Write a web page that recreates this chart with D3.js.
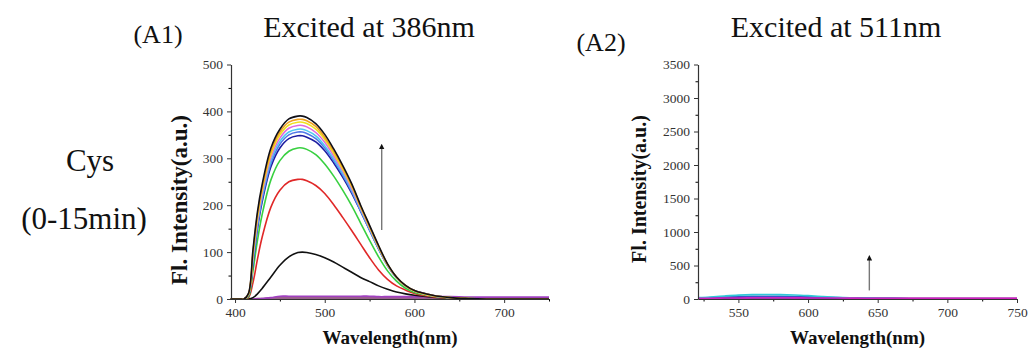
<!DOCTYPE html>
<html>
<head>
<meta charset="utf-8">
<script src="https://cdn.jsdelivr.net/npm/d3@7"></script>
<style>
  body { margin: 0; background: #fff; }
  svg text { font-family: "Liberation Serif", "Times New Roman", serif; fill: #111; }
</style>
</head>
<body>
<svg id="fig" width="1029" height="351"></svg>
<script>
// Spectra, excitation at 386 nm (Cys, 0-15 min)
const wl386 = [395, 405, 410, 415, 420, 425, 430, 440, 450, 460, 470, 475, 480, 490, 500, 510, 520, 530, 540, 550, 560, 570, 580, 590, 600, 620, 640, 660, 680, 700, 750];
const ex386Series = [
  { color: "#7a2a6a", values: [0, 0, 0, 0, 0, 1, 1, 2, 2, 2, 2, 2, 2, 2, 2, 2, 2, 2, 2, 2, 2, 2, 2, 2, 2, 2, 2, 2, 2, 2, 2] },
  { color: "#a040c0", values: [0, 0, 0, 0, 0, 0, 1, 3, 6, 6, 6, 6, 6, 6, 6, 6, 6, 6, 6, 6, 5, 5, 5, 5, 5, 5, 5, 4, 4, 4, 4] },
  { color: "#111111", values: [0, 0, 0, 0, 3, 11, 22, 47, 72, 90, 99, 100, 99, 95, 88, 79, 68, 57, 46, 37, 28, 21, 15, 11, 8, 4, 2, 1, 0, 0, 0] },
  { color: "#e02828", values: [0, 0, 0, 3, 35, 85, 130, 196, 232, 250, 255, 255, 252, 242, 225, 201, 174, 146, 117, 88, 62, 42, 28, 19, 12, 5, 2, 1, 0, 0, 0] },
  { color: "#38d040", values: [0, 0, 0, 5, 60, 125, 178, 254, 295, 315, 322, 322, 319, 308, 288, 262, 232, 199, 162, 125, 90, 60, 38, 23, 14, 6, 2, 1, 0, 0, 0] },
  { color: "#1c1ca0", values: [0, 0, 0, 8, 75, 150, 205, 282, 322, 342, 348, 348, 345, 335, 316, 290, 260, 226, 187, 147, 107, 72, 46, 28, 18, 8, 3, 1, 0, 0, 0] },
  { color: "#5078e8", values: [0, 0, 0, 9, 80, 155, 211, 289, 330, 350, 356, 356, 353, 342, 322, 295, 264, 229, 188, 147, 107, 71, 45, 28, 17, 7, 3, 1, 0, 0, 0] },
  { color: "#50c8f0", values: [0, 0, 0, 9, 85, 161, 217, 295, 336, 356, 362, 362, 359, 348, 327, 299, 268, 232, 190, 149, 108, 71, 45, 28, 17, 7, 3, 1, 0, 0, 0] },
  { color: "#e068e0", values: [0, 0, 0, 10, 90, 167, 223, 302, 343, 364, 370, 370, 367, 355, 334, 305, 273, 236, 193, 151, 110, 72, 46, 28, 17, 7, 3, 1, 0, 0, 0] },
  { color: "#f0e020", values: [0, 0, 0, 10, 95, 173, 229, 308, 350, 371, 377, 377, 374, 362, 340, 310, 277, 240, 196, 153, 111, 73, 46, 28, 17, 7, 3, 1, 0, 0, 0] },
  { color: "#f0a020", values: [0, 0, 0, 11, 100, 180, 235, 314, 356, 377, 383, 383, 380, 368, 345, 315, 281, 243, 198, 155, 113, 74, 47, 29, 18, 8, 3, 1, 0, 0, 0] },
  { color: "#101018", values: [0, 0, 0, 12, 105, 186, 242, 322, 362, 384, 390, 390, 387, 374, 351, 320, 285, 246, 200, 157, 114, 75, 47, 29, 18, 8, 3, 1, 0, 0, 0] }
];

// Spectra, excitation at 511 nm
const wl511 = [521, 530, 540, 550, 560, 570, 580, 590, 600, 610, 620, 630, 640, 650, 660, 680, 700, 750];
const ex511Series = [
  { color: "#8040a0", values: [8, 9, 10, 12, 13, 13, 13, 12, 12, 11, 11, 10, 10, 10, 9, 9, 9, 9] },
  { color: "#202080", values: [12, 15, 20, 25, 28, 30, 29, 27, 23, 19, 15, 11, 8, 6, 5, 3, 3, 2] },
  { color: "#4050c8", values: [15, 20, 28, 35, 40, 42, 40, 37, 32, 26, 20, 14, 10, 7, 5, 4, 3, 2] },
  { color: "#30c8d8", values: [20, 30, 45, 58, 66, 68, 66, 60, 50, 38, 27, 18, 12, 8, 6, 4, 3, 2] },
  { color: "#d020c0", values: [10, 12, 14, 16, 18, 18, 18, 17, 16, 15, 14, 13, 12, 12, 11, 11, 10, 10] }
];

const ticks386X = [400, 500, 600, 700];
const ticks386Y = [0, 100, 200, 300, 400, 500];
const ticks511X = [550, 600, 650, 700, 750];
const ticks511Y = [0, 500, 1000, 1500, 2000, 2500, 3000, 3500];

// arrows showing increase over time: [x, yFrom, yTo]
const arrow386 = [563.5, 147, 325];
const arrow511 = [644, 128, 615];

const svg = d3.select("#fig");

const defs = svg.append("defs");
defs.append("marker")
  .attr("id", "head")
  .attr("viewBox", "0 0 10 10")
  .attr("refX", 5).attr("refY", 5)
  .attr("markerWidth", 4).attr("markerHeight", 4)
  .attr("orient", "auto")
  .append("path")
  .attr("d", "M0,0 L10,5 L0,10 z")
  .attr("fill", "#111");

function panel(opt) {
  const x = d3.scaleLinear().domain(opt.xDomain).range(opt.xRange);
  const y = d3.scaleLinear().domain(opt.yDomain).range([299, 64.5]);
  const g = svg.append("g");

  const line = d3.line()
    .x((d, i) => x(opt.wl[i]))
    .y(d => y(d))
    .curve(d3.curveCatmullRom.alpha(0.5));

  g.append("g").selectAll("path")
    .data(opt.series)
    .enter().append("path")
    .attr("d", d => line(d.values))
    .attr("fill", "none")
    .attr("stroke", d => d.color)
    .attr("stroke-width", 1.6);

  // minor ticks
  g.append("g")
    .attr("transform", "translate(0,299)")
    .call(d3.axisBottom(x).tickValues(opt.xMinor).tickSize(2.5).tickSizeOuter(0).tickFormat(""))
    .call(a => a.select(".domain").remove());
  g.append("g")
    .attr("transform", `translate(${opt.xRange[0]},0)`)
    .call(d3.axisLeft(y).tickValues(opt.yMinor).tickSize(2.5).tickSizeOuter(0).tickFormat(""))
    .call(a => a.select(".domain").remove());

  const xAxis = g.append("g")
    .attr("transform", "translate(0,299)")
    .call(d3.axisBottom(x).tickValues(opt.xTicks).tickSize(4).tickSizeOuter(0).tickPadding(4).tickFormat(d3.format("d")));
  const yAxis = g.append("g")
    .attr("transform", `translate(${opt.xRange[0]},0)`)
    .call(d3.axisLeft(y).tickValues(opt.yTicks).tickSize(4).tickSizeOuter(0).tickPadding(4).tickFormat(d3.format("d")));

  [xAxis, yAxis].forEach(a => {
    a.selectAll("text")
      .style("font-family", "'Liberation Serif', serif", "important")
      .style("font-size", "13.5px", "important")
      .style("fill", "#333", "important");
    a.selectAll("line").attr("stroke", "#333");
    a.select(".domain").attr("stroke", "#333").attr("stroke-width", 1.2);
  });

  // increase arrow
  g.append("line")
    .attr("x1", x(opt.arrow[0])).attr("x2", x(opt.arrow[0]))
    .attr("y1", y(opt.arrow[1])).attr("y2", y(opt.arrow[2]))
    .attr("stroke", "#777").attr("stroke-width", 1.4)
    .attr("marker-end", "url(#head)");

  g.append("text")
    .attr("x", (opt.xRange[0] + opt.xRange[1]) / 2)
    .attr("y", 344)
    .attr("text-anchor", "middle")
    .style("font-size", "19px").style("font-weight", "bold")
    .text("Wavelength(nm)");

  g.append("text")
    .attr("transform", `translate(${opt.yTitleX},${opt.yTitleY}) rotate(-90)`)
    .attr("text-anchor", "middle")
    .style("font-size", opt.yTitleSize).style("font-weight", "bold")
    .text("Fl. Intensity(a.u.)");

  g.append("text")
    .attr("x", opt.titleX).attr("y", 37)
    .attr("text-anchor", "middle")
    .style("font-size", "30px")
    .text(opt.title);

  g.append("text")
    .attr("x", opt.tagX).attr("y", opt.tagY)
    .attr("text-anchor", "middle")
    .style("font-size", "26px")
    .text(opt.tag);
}

panel({
  wl: wl386, series: ex386Series,
  xDomain: [395.5, 750], xRange: [231, 549], yDomain: [0, 500],
  xTicks: ticks386X, xMinor: [450, 550, 650, 750], yTicks: ticks386Y, yMinor: [50, 150, 250, 350, 450],
  arrow: arrow386, yTitleX: 187, yTitleY: 200, yTitleSize: "23px",
  title: "Excited at 386nm", titleX: 369, tag: "(A1)", tagX: 158, tagY: 43
});

panel({
  wl: wl511, series: ex511Series,
  xDomain: [521, 750], xRange: [698, 1017], yDomain: [0, 3500],
  xTicks: ticks511X, xMinor: [525, 575, 625, 675, 725], yTicks: ticks511Y,
  yMinor: [250, 750, 1250, 1750, 2250, 2750, 3250],
  arrow: arrow511, yTitleX: 646, yTitleY: 189, yTitleSize: "20px",
  title: "Excited at 511nm", titleX: 836, tag: "(A2)", tagX: 601, tagY: 51
});

// sample label
svg.append("text").attr("x", 90).attr("y", 171).attr("text-anchor", "middle")
  .style("font-size", "31px").text("Cys");
svg.append("text").attr("x", 84).attr("y", 229).attr("text-anchor", "middle")
  .style("font-size", "31px").text("(0-15min)");
</script>
</body>
</html>
